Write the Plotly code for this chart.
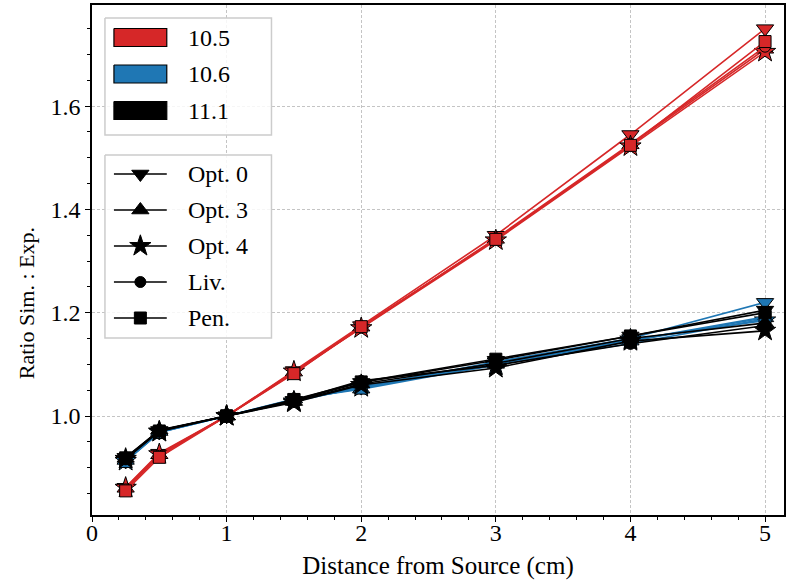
import plotly.graph_objects as go

# ---------------- data ----------------
distance = [0.25, 0.5, 1, 1.5, 2, 3, 4, 5]

versions = ["10.5", "10.6", "11.1"]
version_colors = ["#d62728", "#1f77b4", "#000000"]

options = ["Opt. 0", "Opt. 3", "Opt. 4", "Liv.", "Pen."]
option_symbols = ["triangle-down", "triangle-up", "star", "circle", "square"]
option_sizes = [15, 15, 16, 11, 12]

# ratio Sim : Exp, per version, per option
v105_opt0 = [0.862, 0.928, 1.0, 1.088, 1.175, 1.350, 1.545, 1.750]
v105_opt3 = [0.860, 0.925, 1.0, 1.085, 1.172, 1.342, 1.525, 1.710]
v105_opt4 = [0.861, 0.926, 1.0, 1.086, 1.170, 1.340, 1.522, 1.705]
v105_liv = [0.858, 0.923, 1.0, 1.083, 1.171, 1.344, 1.527, 1.715]
v105_pen = [0.855, 0.920, 1.0, 1.082, 1.173, 1.342, 1.524, 1.725]

v106_opt0 = [0.912, 0.968, 1.0, 1.030, 1.055, 1.105, 1.150, 1.220]
v106_opt3 = [0.914, 0.970, 1.0, 1.033, 1.052, 1.100, 1.145, 1.190]
v106_opt4 = [0.913, 0.969, 1.0, 1.028, 1.056, 1.098, 1.148, 1.185]
v106_liv = [0.915, 0.971, 1.0, 1.030, 1.058, 1.102, 1.140, 1.188]
v106_pen = [0.912, 0.968, 1.0, 1.032, 1.054, 1.104, 1.146, 1.192]

v111_opt0 = [0.920, 0.972, 1.0, 1.030, 1.065, 1.108, 1.155, 1.205]
v111_opt3 = [0.918, 0.973, 1.0, 1.028, 1.062, 1.102, 1.150, 1.180]
v111_opt4 = [0.917, 0.970, 1.0, 1.026, 1.060, 1.093, 1.145, 1.165]
v111_liv = [0.916, 0.972, 1.0, 1.030, 1.068, 1.098, 1.140, 1.175]
v111_pen = [0.919, 0.971, 1.0, 1.032, 1.066, 1.110, 1.155, 1.200]

series = [
    [v105_opt0, v105_opt3, v105_opt4, v105_liv, v105_pen],
    [v106_opt0, v106_opt3, v106_opt4, v106_liv, v106_pen],
    [v111_opt0, v111_opt3, v111_opt4, v111_liv, v111_pen],
]

x_ticks = [0, 1, 2, 3, 4, 5]
y_ticks = [1.0, 1.2, 1.4, 1.6]
y_ticktext = ["1.0", "1.2", "1.4", "1.6"]

FONT = "Liberation Serif"
FS = 24
FS_TITLE = 25

fig = go.Figure()

for vi, vname in enumerate(versions):
    for oi, oname in enumerate(options):
        fig.add_trace(go.Scatter(
            x=distance, y=series[vi][oi], mode="lines+markers",
            name=f"{vname} {oname}",
            line=dict(color=version_colors[vi], width=1.6),
            marker=dict(symbol=option_symbols[oi], size=option_sizes[oi],
                        color=version_colors[vi],
                        line=dict(color="black", width=1)),
            showlegend=False,
        ))

# ---------------- custom legends (overlay axes in 0..1 fraction of plot area) ----------------
L, R, T, B = 92, 786, 5, 515


def fx(px):
    return (px - L) / (R - L)


def fy(py):
    return (B - py) / (B - T)


def box(x0, y0, x1, y1, fill, line_color, lw):
    fig.add_trace(go.Scatter(
        x=[fx(x0), fx(x1), fx(x1), fx(x0), fx(x0)],
        y=[fy(y0), fy(y0), fy(y1), fy(y1), fy(y0)],
        mode="lines", fill="toself", fillcolor=fill,
        line=dict(color=line_color, width=lw),
        xaxis="x2", yaxis="y2", hoverinfo="skip", showlegend=False))


# legend 1: versions
box(105, 18, 272, 135, "rgba(255,255,255,0.85)", "#cccccc", 1.5)
leg1_rows = [37.5, 74, 110.5]
for vi, vname in enumerate(versions):
    cy = leg1_rows[vi]
    box(114, cy - 9, 167, cy + 9, version_colors[vi], "black", 1.2)
    fig.add_annotation(x=fx(186), y=fy(cy), xref="paper", yref="paper",
                       text=vname, showarrow=False, xanchor="left", yanchor="middle",
                       font=dict(family=FONT, size=FS, color="black"))

# legend 2: options
box(105, 155, 272, 338, "rgba(255,255,255,0.85)", "#cccccc", 1.5)
leg2_rows = [174, 210, 246, 282, 318]
for oi, oname in enumerate(options):
    cy = leg2_rows[oi]
    fig.add_trace(go.Scatter(
        x=[fx(114), fx(140.5), fx(167)], y=[fy(cy)] * 3, mode="lines",
        line=dict(color="black", width=1.6),
        xaxis="x2", yaxis="y2", hoverinfo="skip", showlegend=False))
    fig.add_trace(go.Scatter(
        x=[fx(140.5)], y=[fy(cy)], mode="markers",
        marker=dict(symbol=option_symbols[oi], size=option_sizes[oi], color="black",
                    line=dict(color="black", width=1)),
        xaxis="x2", yaxis="y2", hoverinfo="skip", showlegend=False))
    fig.add_annotation(x=fx(186), y=fy(cy), xref="paper", yref="paper",
                       text=oname, showarrow=False, xanchor="left", yanchor="middle",
                       font=dict(family=FONT, size=FS, color="black"))

# y-axis title placed as in the reference
fig.add_annotation(x=fx(27), y=fy(303), xref="paper", yref="paper",
                   text="Ratio Sim. : Exp.", showarrow=False, textangle=-90,
                   xanchor="center", yanchor="middle",
                   font=dict(family=FONT, size=22, color="black"))

axis_common = dict(
    showline=True, linecolor="black", linewidth=1.5, mirror=True,
    ticks="outside", ticklen=5, tickwidth=1.2, tickcolor="black",
    showgrid=True, gridcolor="#c4c4c4", griddash="3px,2px", gridwidth=0.8,
    zeroline=False,
    tickfont=dict(family=FONT, size=FS, color="black"),
)

fig.update_layout(
    width=786, height=581,
    margin=dict(l=L, r=786 - R, t=T, b=581 - B),
    paper_bgcolor="white", plot_bgcolor="white",
    showlegend=False,
    font=dict(family=FONT, size=FS, color="black"),
    xaxis=dict(range=[0, (R - L) / 135.0], tickvals=x_ticks, ticklabelstandoff=-10,
               minor=dict(dtick=0.2, ticklen=3.5, ticks="outside", tickcolor="black", showgrid=False),
               title=dict(text="Distance from Source (cm)", font=dict(family=FONT, size=FS_TITLE), standoff=12),
               **axis_common),
    yaxis=dict(range=[1.0 - (B - 416) / 516.5, 1.0 + (416 - T) / 516.5],
               tickvals=y_ticks, ticktext=y_ticktext,
               minor=dict(dtick=0.05, ticklen=3.5, ticks="outside", tickcolor="black", showgrid=False),
               **axis_common),
    xaxis2=dict(overlaying="x", range=[0, 1], visible=False, fixedrange=True),
    yaxis2=dict(overlaying="y", range=[0, 1], visible=False, fixedrange=True),
)

fig.write_html("out.html")
